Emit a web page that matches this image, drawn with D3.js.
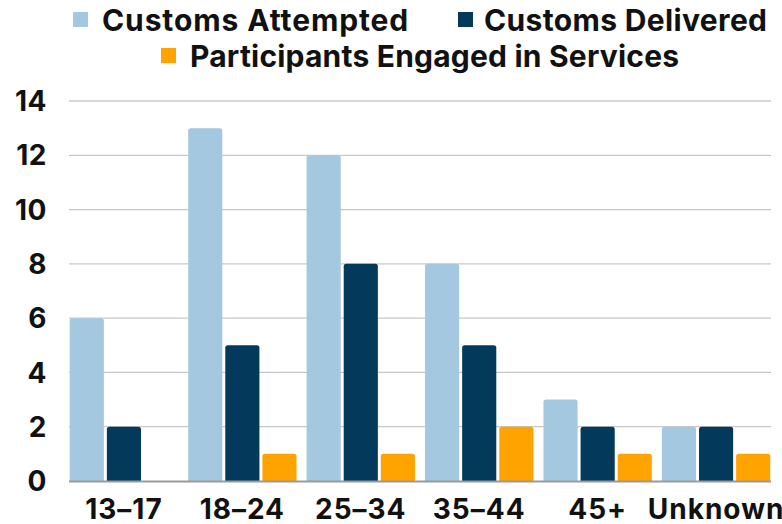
<!DOCTYPE html>
<html><head><meta charset="utf-8">
<script src="https://cdn.jsdelivr.net/npm/d3@7"></script>
<style>body{margin:0;background:#fff;overflow:hidden}svg{display:block;font-family:Inter,"DejaVu Sans",sans-serif;font-weight:700}</style>
</head><body><svg id="c" width="782" height="524"></svg>
<script>
const categories = ["13–17","18–24","25–34","35–44","45+","Unknown"];
const seriesNames = ["Customs Attempted","Customs Delivered","Participants Engaged in Services"];
const attempted = [6,13,12,8,3,2];
const delivered = [2,5,8,5,2,2];
const engaged = [0,1,1,2,1,1];
const yTicks = [0,2,4,6,8,10,12,14];
const colors = ["#a5c8e1","#033a5b","#ffa300"];

(function(){
const series = [attempted, delivered, engaged];
const svg = d3.select("#c");
const pLeft = 65, pRight = 775, pTop = 101, pBottom = 481;
const x = d3.scaleBand().domain(categories).range([pLeft, pRight]).paddingInner(0.085).paddingOuter(0.04);
const xs = d3.scaleBand().domain(d3.range(3)).range([0, x.bandwidth()]).paddingInner(0.08);
const y = d3.scaleLinear().domain([0,14]).range([pBottom, pTop]);

svg.append("g").selectAll("line").data(yTicks.slice(1)).join("line")
  .attr("x1", 69).attr("x2", 771).attr("y1", d=>y(d)).attr("y2", d=>y(d))
  .attr("stroke", "#c8c8c8").attr("stroke-width", 1.3);

svg.append("g").selectAll("text").data(yTicks).join("text")
  .attr("x", 47).attr("y", d=>y(d)).attr("dy","0.36em").attr("text-anchor","end")
  .attr("font-size", 28).attr("letter-spacing", 0.5).attr("fill","#111").text(d=>d);

function barPath(x0, y0, w, h, r){
  if (h<=0) return "";
  r = Math.min(r, h, w/2);
  return `M${x0},${y0+h}V${y0+r}Q${x0},${y0} ${x0+r},${y0}H${x0+w-r}Q${x0+w},${y0} ${x0+w},${y0+r}V${y0+h}Z`;
}
series.forEach((vals, si) => {
  svg.append("g").selectAll("path").data(vals).join("path")
    .attr("d", (v,i) => barPath(x(categories[i]) + xs(si), y(v), xs.bandwidth(), y(0)-y(v), 2.5))
    .attr("fill", colors[si]);
});

svg.append("line").attr("x1",69).attr("x2",771).attr("y1",pBottom+0.5).attr("y2",pBottom+0.5)
  .attr("stroke","#9a9a9a").attr("stroke-width",2);

svg.append("g").selectAll("text").data(categories).join("text")
  .attr("x", d=>x(d)+x.bandwidth()/2).attr("y", 519).attr("text-anchor","middle")
  .attr("font-size", 28).attr("letter-spacing", 1).attr("fill","#111").text(d=>d);

const legend = [
  {i:0, sx:73, sy:12, tx:102, ty:31, ls:0.9},
  {i:1, sx:458, sy:12, tx:484, ty:31, ls:0.35},
  {i:2, sx:161, sy:48, tx:190, ty:67, ls:0.2}
];
const lg = svg.append("g");
legend.forEach(l => {
  lg.append("rect").attr("x",l.sx).attr("y",l.sy).attr("width",15).attr("height",15).attr("fill",colors[l.i]);
  lg.append("text").attr("x",l.tx).attr("y",l.ty).attr("font-size",30).attr("letter-spacing",l.ls).attr("fill","#111").text(seriesNames[l.i]);
});
})();
</script></body></html>
